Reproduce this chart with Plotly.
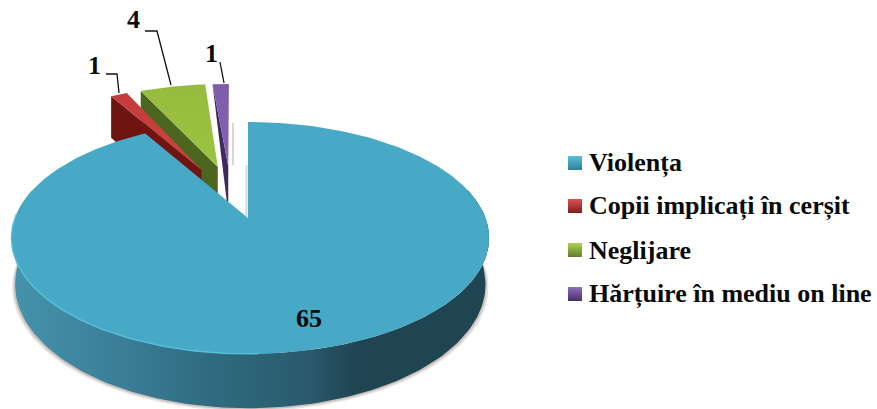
import math
import plotly.graph_objects as go

categories = ["Violența", "Copii implicați în cerșit", "Neglijare", "Hărțuire în mediu on line"]
values = [65, 1, 4, 1]
top_colors = ["#47a9c6", "#c23b3a", "#96bb3e", "#7d5ca9"]
top_colors_light = ["#47a9c6", "#cc4444", "#9dc342", "#8663b3"]
wall_colors = ["#2e6a7f", "#6e1512", "#4c651f", "#3f2a5c"]
legend_light = ["#58c0dc", "#e05050", "#b0d050", "#9070c0"]
legend_dark = ["#2f7f99", "#7d1f1d", "#5f7f28", "#46306a"]

# projection of the tilted disc onto the page (pixels)
CX, CY = 248, 218
BEND = 0.172
AY = 112.5
AX_L, AX_R = 233, 237.5
EXPLODE = 0.5
DEPTH_MAIN, DEPTH_SMALL = 45, 51
NUDGE = {0: (0, 0), 1: (4, -2), 2: (-2, -1), 3: (-15, 0)}
WALL_INSET = {1: 0, 2: 0, 3: 5}


def proj(u, v):
    f = 1 / (1 + BEND * v)
    ax = AX_L if u < 0 else AX_R
    return CX + ax * u * f, CY - AY * v * f, f


def arc(a0, a1, n=120):
    return [a0 + (a1 - a0) * i / n for i in range(n + 1)]


fig = go.Figure()


def poly(xs, ys, color, grad=None):
    kw = dict(x=xs, y=ys, mode="lines", fill="toself", line=dict(width=0, color=color),
              hoverinfo="skip", showlegend=False)
    if grad:
        kw["fillgradient"] = grad
    else:
        kw["fillcolor"] = color
    fig.add_trace(go.Scatter(**kw))


total = sum(values)
spans = []
acc = 0
for val in values:
    spans.append((acc / total * 2 * math.pi, (acc + val) / total * 2 * math.pi))
    acc += val

# faint cast shadows behind the gap beside the main slice
for sx, sy in (([233, 233], [123, 165]), ([246.5, 246.5], [165, 216])):
    fig.add_trace(go.Scatter(x=sx, y=sy, mode="lines", line=dict(width=2, color="#d6d6d6"),
                             hoverinfo="skip", showlegend=False))

# exploded small slices, back to front
for i in (3, 2, 1):
    a0, a1 = spans[i]
    mid = (a0 + a1) / 2
    du, dv = EXPLODE * math.sin(mid), EXPLODE * math.cos(mid)
    nx, ny = NUDGE[i]
    pts = [proj(du + math.sin(a), dv + math.cos(a)) for a in arc(a0, a1, 24)]
    tx, ty, tf = proj(du, dv)
    sx, sy, sf = pts[0]
    poly([sx + nx, tx + nx, tx + nx, sx + nx + WALL_INSET[i], sx + nx],
         [sy + ny, ty + ny, ty + ny + DEPTH_SMALL * tf, sy + ny + DEPTH_SMALL * sf, sy + ny],
         wall_colors[i])
    poly([tx + nx] + [p[0] + nx for p in pts] + [tx + nx],
         [ty + ny] + [p[1] + ny for p in pts] + [ty + ny],
         top_colors[i],
         dict(type="vertical", colorscale=[[0, top_colors_light[i]], [1, top_colors[i]]]))

# main slice: soft shadow, outer wall, top
a0, a1 = spans[0]
wall_a = arc(math.radians(75), math.radians(285), 160)
top_edge = [proj(math.sin(a), math.cos(a)) for a in wall_a]
bx = [CX + 2 + (p[0] - CX - 2) * 0.985 for p in top_edge]
by = [p[1] + DEPTH_MAIN * p[2] for p in top_edge]
for grow, col in ((3, "#e8e4e2"), (1.5, "#c9c2be")):
    poly([CX + 2 + (x - CX - 2) * (1 + grow / 240) for x in bx] + [p[0] for p in reversed(top_edge)],
         [y + grow for y in by] + [p[1] for p in reversed(top_edge)], col)
poly([p[0] for p in top_edge] + bx[::-1], [p[1] for p in top_edge] + by[::-1], wall_colors[0],
     dict(type="horizontal", colorscale=[[0, "#4593ac"], [0.2, "#3c8199"], [0.42, "#2f6b80"],
                                         [0.62, "#295a6c"], [0.72, "#1f4553"], [1, "#1f4452"]]))
face = [proj(math.sin(a), math.cos(a)) for a in arc(a0, a1, 300)]
poly([CX] + [p[0] for p in face] + [CX], [CY] + [p[1] for p in face] + [CY], top_colors[0])
rim = [proj(math.sin(a), math.cos(a)) for a in arc(math.radians(178), math.radians(272), 80)]
fig.add_trace(go.Scatter(x=[p[0] for p in rim], y=[p[1] for p in rim], mode="lines",
                         line=dict(width=1.5, color="#55bedb"), hoverinfo="skip", showlegend=False))

# leader lines
leaders = [([106, 117, 119], [74, 74, 93]), ([145, 157, 171], [31, 31, 85]), ([220, 224], [62, 83])]
for lx, ly in leaders:
    fig.add_trace(go.Scatter(x=lx, y=ly, mode="lines", line=dict(width=1.3, color="#111111"),
                             hoverinfo="skip", showlegend=False))

# legend swatches
legend_y = [163, 206, 250, 294]
for c, y, li, da in zip(categories, legend_y, legend_light, legend_dark):
    fig.add_trace(go.Scatter(x=[575], y=[y], mode="markers", showlegend=False, hoverinfo="skip",
                             marker=dict(symbol="square", size=14, color=li, line=dict(width=0),
                                         gradient=dict(type="vertical", color=da))))

TXT = dict(family="Liberation Serif", color="#0a0a0a")
annotations = [dict(x=587, y=y, text=f"<b>{c}</b>", xanchor="left", yanchor="middle", showarrow=False,
                    font=dict(size=26, **TXT)) for c, y in zip(categories, legend_y)]
label_pos = [(309, 318), (94, 65), (133, 19), (211, 53)]
for (lx, ly), v in zip(label_pos, values):
    annotations.append(dict(x=lx, y=ly, text=f"<b>{v}</b>", showarrow=False, xanchor="center",
                            yanchor="middle", font=dict(size=26, **TXT)))

fig.update_layout(
    width=877, height=409, margin=dict(l=0, r=0, t=0, b=0),
    paper_bgcolor="white", plot_bgcolor="white", showlegend=False,
    xaxis=dict(range=[0, 877], visible=False, fixedrange=True),
    yaxis=dict(range=[409, 0], visible=False, fixedrange=True),
    annotations=annotations,
)
fig.write_html("out.html", config=dict(displayModeBar=False),
               post_script="document.body.style.margin='0';")
